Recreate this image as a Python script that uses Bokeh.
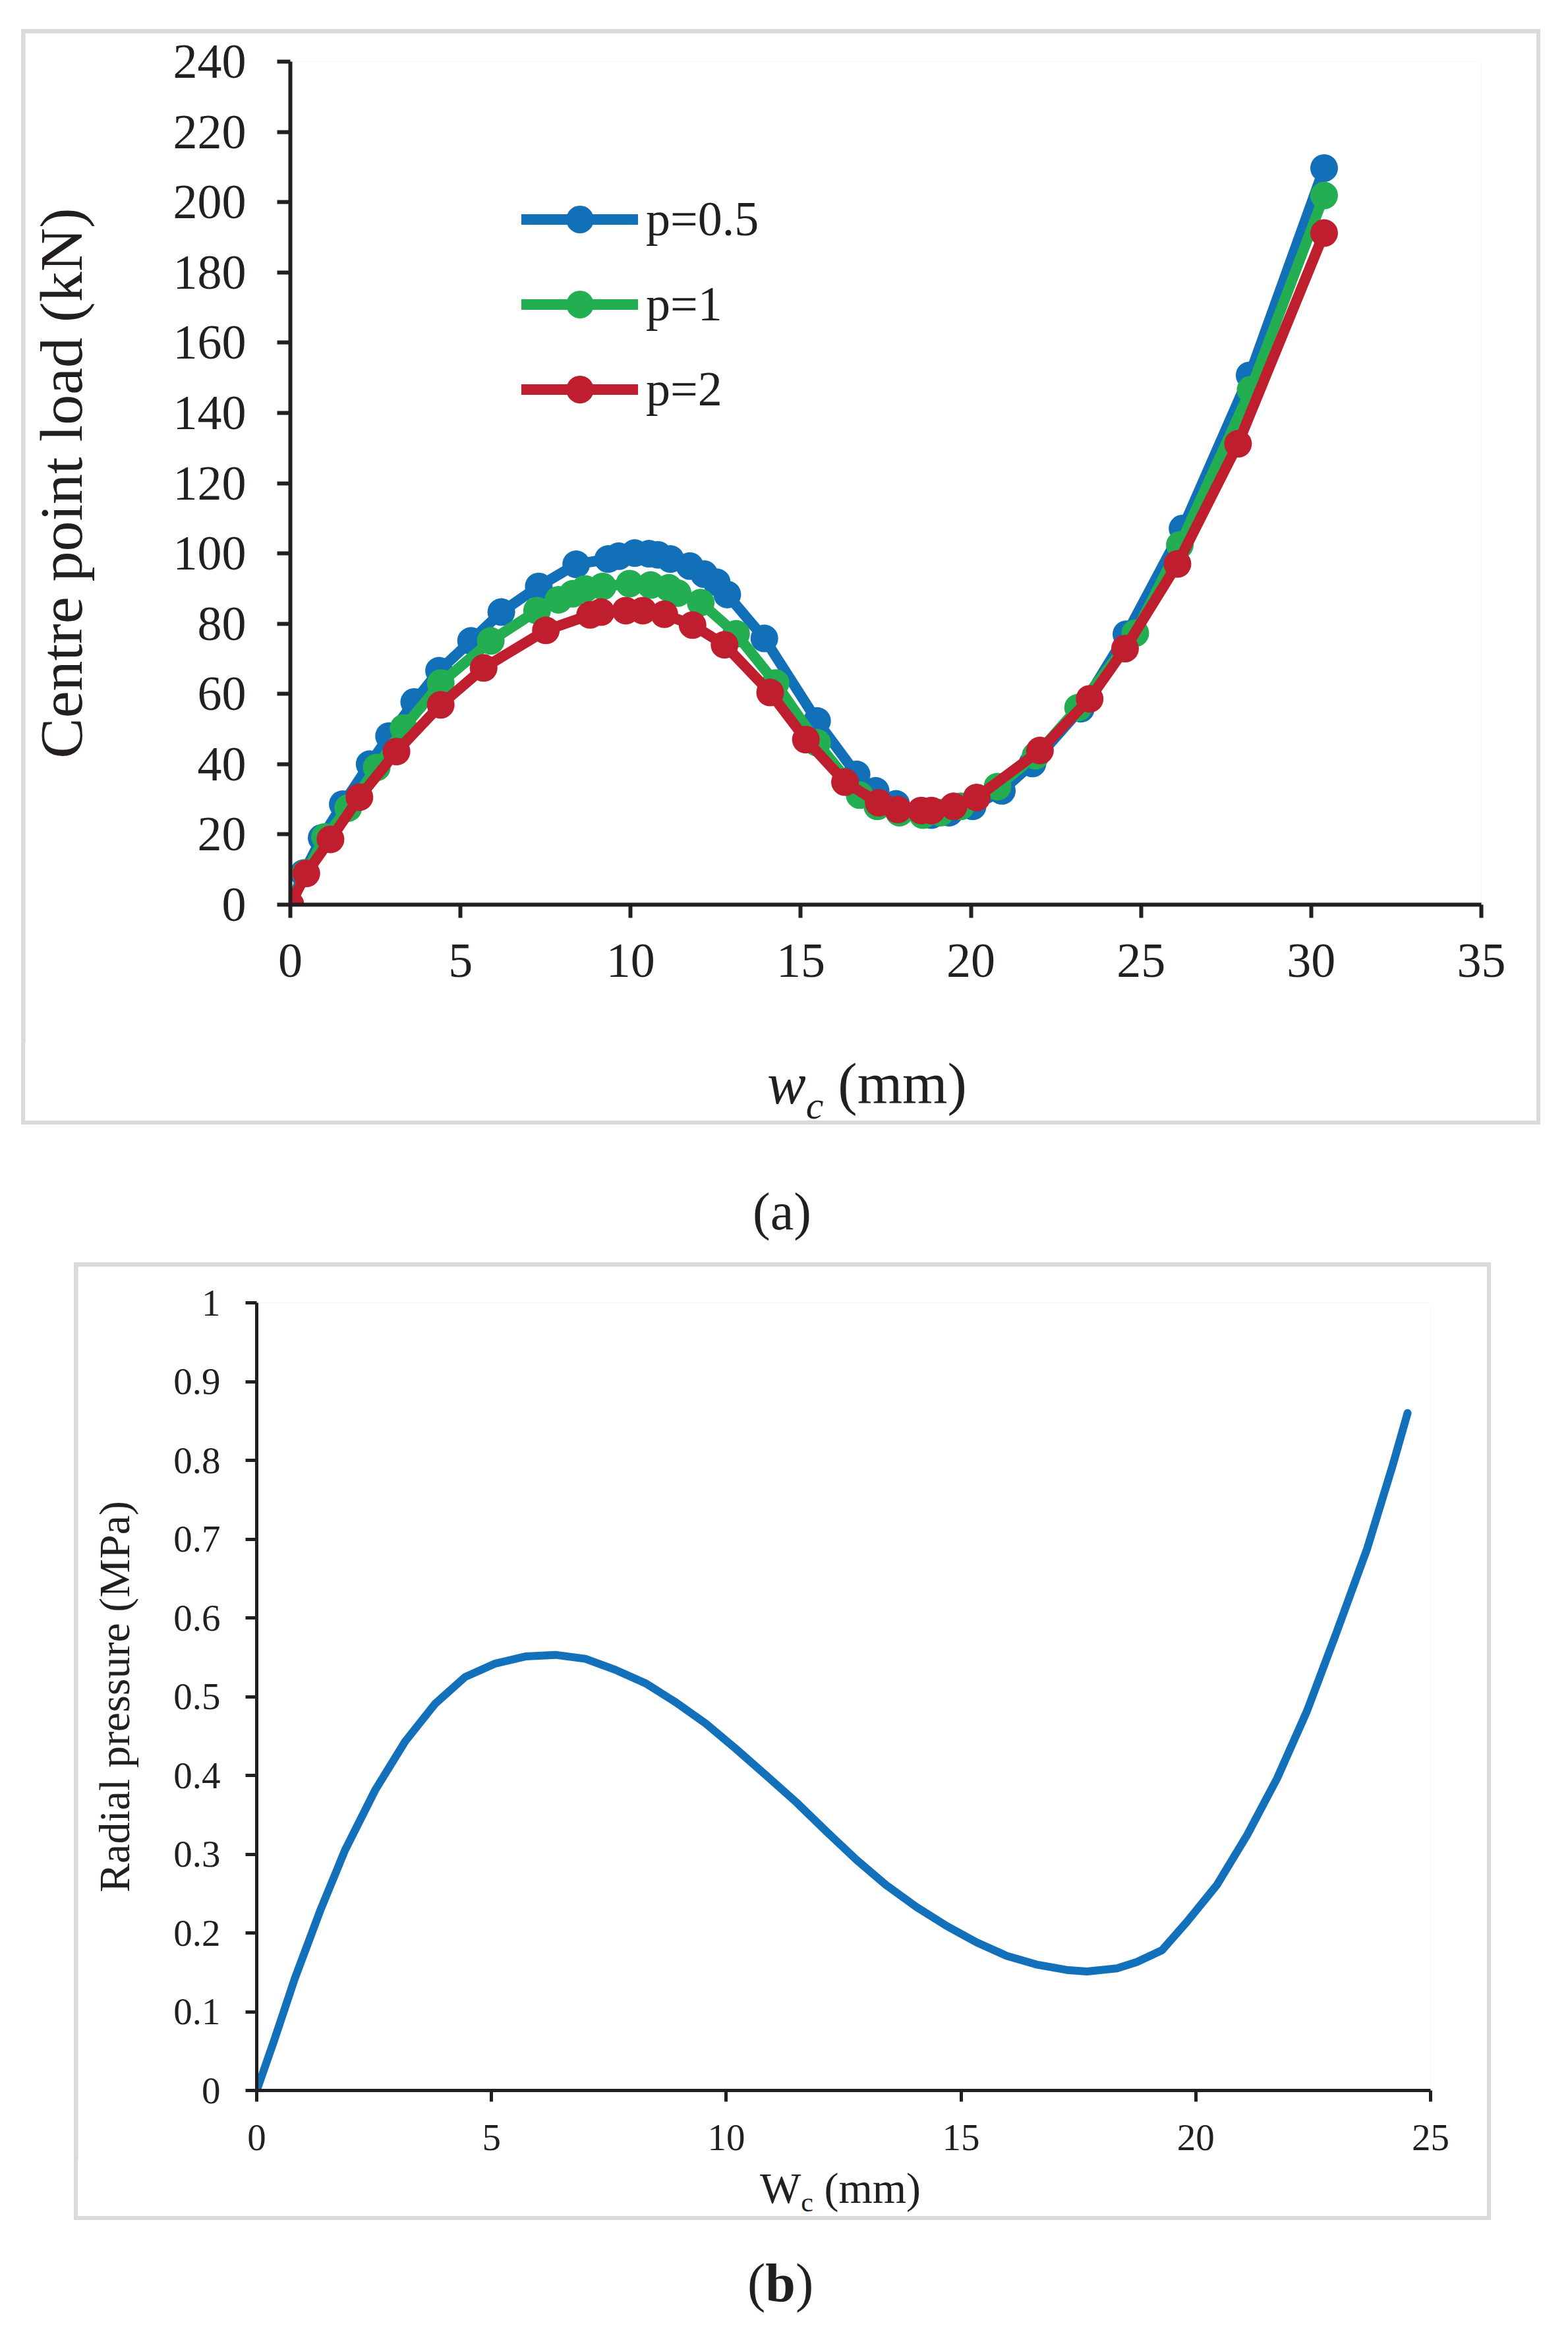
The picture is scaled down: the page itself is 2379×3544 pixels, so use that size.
from bokeh.embed import file_html
from bokeh.layouts import column
from bokeh.models import Div, FixedTicker, Legend, LegendItem, Range1d
from bokeh.plotting import figure
from bokeh.resources import INLINE

SERIF = "Liberation Serif"
INK = "#231F20"
BOX_GREY = "#D9DADB"

# (a) centre point load vs central deflection, three power-law indices
wc_p05 = [0, 0.39, 0.92, 1.54, 2.33, 2.9, 3.64, 4.37, 5.31, 6.2, 7.3, 8.4, 9.34, 9.65,
          10.12, 10.54, 10.8, 11.17, 11.74, 12.16, 12.53, 12.84, 13.93, 15.48, 16.64,
          17.2, 17.8, 18.84, 19.36, 20.05, 20.91, 21.81, 23.23, 24.57, 26.22, 28.19, 30.38]
load_p05 = [0, 9.0, 19.0, 28.6, 40.0, 48.0, 57.7, 66.6, 75.1, 83.3, 90.6, 96.9, 98.4, 99.2,
            100.1, 99.9, 99.6, 98.4, 96.4, 94.1, 91.8, 88.3, 75.8, 52.3, 37.1,
            32.4, 28.7, 25.5, 26.2, 28.0, 32.4, 40.2, 55.8, 77.0, 107.1, 150.7, 209.7]

wc_p1 = [0, 0.45, 1.02, 1.70, 2.54, 3.33, 4.42, 5.89, 7.25, 7.88, 8.3, 8.66, 9.18, 9.97,
         10.59, 11.12, 11.38, 12.06, 13.1, 14.26, 15.48, 16.73, 17.25, 17.9, 18.59, 19.1,
         19.7, 20.78, 21.9, 23.15, 24.83, 26.14, 28.22, 30.38]
load_p1 = [0, 9.0, 19.3, 27.5, 39.1, 50.3, 63.1, 75.1, 83.7, 86.8, 88.5, 89.9, 90.6, 91.4,
           91.0, 90.2, 88.7, 86.0, 77.1, 63.1, 46.1, 31.2, 28.0, 26.2, 25.5, 26.2,
           28.0, 33.6, 42.4, 56.1, 77.3, 102.4, 146.6, 201.9]

wc_p2 = [0, 0.47, 1.18, 2.03, 3.12, 4.42, 5.68, 7.51, 8.81, 9.13, 9.86, 10.36, 10.99, 11.82,
         12.76, 14.1, 15.15, 16.3, 17.29, 17.85, 18.54, 18.84, 19.49, 20.17, 22.03, 23.49,
         24.53, 26.07, 27.85, 30.38]
load_p2 = [0, 8.9, 18.6, 30.6, 43.6, 56.9, 67.4, 78.1, 82.5, 83.3, 83.7, 83.7, 82.7, 79.6,
           74.0, 60.4, 47.0, 34.9, 29.0, 27.1, 26.8, 26.8, 28.0, 30.5, 43.9, 58.6,
           72.9, 97.0, 131.2, 191.2]

series_names = ["p=0.5", "p=1", "p=2"]
series_colors = ["#1170B8", "#23AE52", "#BE1E2D"]

a_xticks = [0, 5, 10, 15, 20, 25, 30, 35]
a_yticks = [0, 20, 40, 60, 80, 100, 120, 140, 160, 180, 200, 220, 240]

# (b) radial pressure vs central deflection
wc_b = [0, 0.38, 0.81, 1.35, 1.88, 2.52, 3.16, 3.8, 4.44, 5.08, 5.72, 6.36, 7.0, 7.64,
        8.28, 8.92, 9.56, 10.2, 10.85, 11.49, 12.13, 12.77, 13.4, 14.05, 14.69, 15.33,
        15.97, 16.6, 17.25, 17.68, 18.32, 18.74, 19.28, 19.81, 20.45, 21.09, 21.73,
        22.37, 23.0, 23.65, 24.19, 24.51]
pressure_b = [0, 0.065, 0.142, 0.228, 0.305, 0.381, 0.443, 0.491, 0.525, 0.542, 0.551,
              0.553, 0.548, 0.534, 0.517, 0.493, 0.466, 0.434, 0.4, 0.366, 0.329, 0.293,
              0.261, 0.233, 0.209, 0.188, 0.171, 0.16, 0.153, 0.151, 0.155, 0.163, 0.178,
              0.214, 0.261, 0.324, 0.396, 0.482, 0.582, 0.688, 0.793, 0.86]

b_xticks = [0, 5, 10, 15, 20, 25]
b_yticks = [0, 0.1, 0.2, 0.3, 0.4, 0.5, 0.6, 0.7, 0.8, 0.9, 1]
b_ylabels = ["0", "0.1", "0.2", "0.3", "0.4", "0.5", "0.6", "0.7", "0.8", "0.9", "1"]


def style_axes(p, tick_size, tick_len, line_w, x_standoff, y_standoff):
    for ax in (p.xaxis[0], p.yaxis[0]):
        ax.axis_line_color = INK
        ax.axis_line_width = line_w
        ax.major_tick_line_color = INK
        ax.major_tick_line_width = line_w
        ax.major_tick_out = tick_len
        ax.major_tick_in = 0
        ax.minor_tick_line_color = None
        ax.major_label_text_font = SERIF
        ax.major_label_text_font_size = tick_size
        ax.major_label_text_color = INK
    p.xaxis[0].major_label_standoff = x_standoff
    p.yaxis[0].major_label_standoff = y_standoff
    p.grid.visible = False
    p.outline_line_color = None


def html_text(inner, size, pad_left, pad_top, line_h):
    return (f'<div style="font-family:\'{SERIF}\';font-size:{size}px;line-height:{line_h}px;'
            f'padding-left:{pad_left}px;padding-top:{pad_top}px;color:{INK};'
            f'white-space:nowrap">{inner}</div>')


# ---------------- panel (a) ----------------
pa = figure(width=2293, height=1532, x_range=Range1d(0, 35), y_range=Range1d(0, 240),
            output_backend="svg", toolbar_location=None,
            min_border_left=396, min_border_right=84, min_border_top=43, min_border_bottom=210)
pa.margin = (6, 6, 0, 6)
pa.xaxis.ticker = FixedTicker(ticks=a_xticks)
pa.yaxis.ticker = FixedTicker(ticks=a_yticks)
style_axes(pa, "74px", 20, 6, 40, 47)
pa.yaxis.axis_label = "Centre point load (kN)"
pa.yaxis.axis_label_text_font = SERIF
pa.yaxis.axis_label_text_font_size = "92px"
pa.yaxis.axis_label_text_font_style = "normal"
pa.yaxis.axis_label_text_color = INK
pa.yaxis.axis_label_standoff = 116

items = []
for name, color, xs, ys in zip(series_names, series_colors,
                               [wc_p05, wc_p1, wc_p2], [load_p05, load_p1, load_p2]):
    ln = pa.line(xs, ys, line_color=color, line_width=16, line_cap="round", line_join="round")
    sc = pa.scatter(xs, ys, size=42, fill_color=color, line_color=None)
    items.append(LegendItem(label=name, renderers=[ln, sc]))

legend = Legend(items=items, location=(351, 729), orientation="vertical",
                glyph_width=177, glyph_height=105, label_height=105, spacing=24,
                padding=0, margin=0, label_standoff=12,
                border_line_color=None, background_fill_alpha=0,
                label_text_font=SERIF, label_text_font_size="74px", label_text_color=INK)
pa.add_layout(legend)

xtitle_a = Div(text=html_text('<i>w</i><span style="font-size:60px;position:relative;top:23px">'
                              '<i>c</i></span> (mm)', 88, 1126, 13, 100),
               width=2293, height=118, margin=(0, 6, 6, 6),
               styles={"background-color": "white"})
box_a = column(pa, xtitle_a, margin=(44, 0, 0, 32), styles={"background-color": BOX_GREY})

cap_a = Div(text=html_text("(a)", 80, 1110, 82, 100),
            width=2305, height=209, margin=(0, 0, 0, 32))

# ---------------- panel (b) ----------------
pb = figure(width=2138, height=1356, x_range=Range1d(0, 25), y_range=Range1d(0, 1),
            output_backend="svg", toolbar_location=None,
            min_border_left=271, min_border_right=86, min_border_top=55, min_border_bottom=106)
pb.margin = (6, 6, 0, 6)
pb.xaxis.ticker = FixedTicker(ticks=b_xticks)
pb.yaxis.ticker = FixedTicker(ticks=b_yticks)
pb.yaxis.major_label_overrides = dict(zip(b_yticks, b_ylabels))
style_axes(pb, "57px", 17, 5, 35, 38)
pb.yaxis.axis_label = "Radial pressure (MPa)"
pb.yaxis.axis_label_text_font = SERIF
pb.yaxis.axis_label_text_font_size = "66px"
pb.yaxis.axis_label_text_font_style = "normal"
pb.yaxis.axis_label_text_color = INK
pb.yaxis.axis_label_standoff = 50

pb.line(wc_b, pressure_b, line_color="#1271BA", line_width=12, line_cap="round", line_join="round")

xtitle_b = Div(text=html_text('W<span style="font-size:42px;position:relative;top:13px">c</span>'
                              ' (mm)', 66, 1035, 5, 76),
               width=2138, height=85, margin=(0, 6, 6, 6),
               styles={"background-color": "white"})
box_b = column(pb, xtitle_b, margin=(0, 0, 0, 112), styles={"background-color": BOX_GREY})

cap_b = Div(text=html_text("(<b>b</b>)", 82, 1022, 46, 100),
            width=2150, height=150, margin=(0, 0, 0, 112))

page = column(box_a, cap_a, box_b, cap_b)
open("out.html", "w").write(file_html(page, INLINE))
